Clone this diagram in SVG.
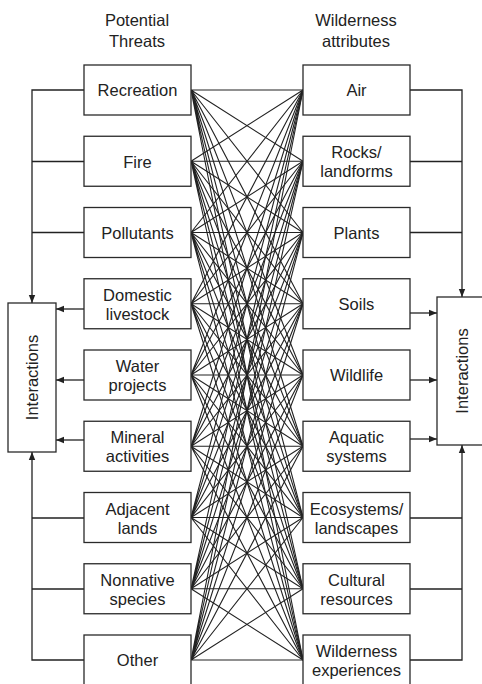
<svg xmlns="http://www.w3.org/2000/svg" width="482" height="684" viewBox="0 0 482 684">
<defs>
<style>
.box{fill:#fff;stroke:#2a2a2a;stroke-width:1.3}
.t{font-family:"Liberation Sans",Arial,sans-serif;font-size:16.5px;fill:#222;text-anchor:middle}
.c{stroke:#222;stroke-width:1.1;fill:none}
.w{stroke:#222;stroke-width:1.3;fill:none}
</style>
<marker id="ah" viewBox="0 0 8 8" refX="8" refY="4" markerWidth="8" markerHeight="8" markerUnits="userSpaceOnUse" orient="auto">
<path d="M0,0.8 L8,4 L0,7.2 Z" fill="#222"/>
</marker>
</defs>
<rect width="482" height="684" fill="#fff"/>
<g id="headers">
<text class="t" x="137" y="26">Potential</text>
<text class="t" x="137" y="47">Threats</text>
<text class="t" x="356" y="26">Wilderness</text>
<text class="t" x="356" y="47">attributes</text>
</g>
<g id="connectors">
<g id="mesh" class="c">
<path d="M191,90 L303,90 M191,90 L303,161.25 M191,90 L303,232.5 M191,90 L303,303.75 M191,90 L303,375 M191,90 L303,446.25 M191,90 L303,517.5 M191,90 L303,588.75 M191,90 L303,660"/>
<path d="M191,161.25 L303,90 M191,161.25 L303,161.25 M191,161.25 L303,232.5 M191,161.25 L303,303.75 M191,161.25 L303,375 M191,161.25 L303,446.25 M191,161.25 L303,517.5 M191,161.25 L303,588.75 M191,161.25 L303,660"/>
<path d="M191,232.5 L303,90 M191,232.5 L303,161.25 M191,232.5 L303,232.5 M191,232.5 L303,303.75 M191,232.5 L303,375 M191,232.5 L303,446.25 M191,232.5 L303,517.5 M191,232.5 L303,588.75 M191,232.5 L303,660"/>
<path d="M191,303.75 L303,90 M191,303.75 L303,161.25 M191,303.75 L303,232.5 M191,303.75 L303,303.75 M191,303.75 L303,375 M191,303.75 L303,446.25 M191,303.75 L303,517.5 M191,303.75 L303,588.75 M191,303.75 L303,660"/>
<path d="M191,375 L303,90 M191,375 L303,161.25 M191,375 L303,232.5 M191,375 L303,303.75 M191,375 L303,375 M191,375 L303,446.25 M191,375 L303,517.5 M191,375 L303,588.75 M191,375 L303,660"/>
<path d="M191,446.25 L303,90 M191,446.25 L303,161.25 M191,446.25 L303,232.5 M191,446.25 L303,303.75 M191,446.25 L303,375 M191,446.25 L303,446.25 M191,446.25 L303,517.5 M191,446.25 L303,588.75 M191,446.25 L303,660"/>
<path d="M191,517.5 L303,90 M191,517.5 L303,161.25 M191,517.5 L303,232.5 M191,517.5 L303,303.75 M191,517.5 L303,375 M191,517.5 L303,446.25 M191,517.5 L303,517.5 M191,517.5 L303,588.75 M191,517.5 L303,660"/>
<path d="M191,588.75 L303,90 M191,588.75 L303,161.25 M191,588.75 L303,232.5 M191,588.75 L303,303.75 M191,588.75 L303,375 M191,588.75 L303,446.25 M191,588.75 L303,517.5 M191,588.75 L303,588.75 M191,588.75 L303,660"/>
<path d="M191,660 L303,90 M191,660 L303,161.25 M191,660 L303,232.5 M191,660 L303,303.75 M191,660 L303,375 M191,660 L303,446.25 M191,660 L303,517.5 M191,660 L303,588.75 M191,660 L303,660"/>
</g>
<g id="left-feedback" class="w">
<path d="M84,90 H32 V303" marker-end="url(#ah)"/>
<path d="M84,161.5 H32 M84,232.5 H32"/>
<path d="M84,660 H32 V452" marker-end="url(#ah)"/>
<path d="M84,518 H32 M84,589 H32"/>
<path d="M84,309 H56" marker-end="url(#ah)"/>
<path d="M84,380 H56" marker-end="url(#ah)"/>
<path d="M84,440 H56" marker-end="url(#ah)"/>
</g>
<g id="right-feedback" class="w">
<path d="M410,90 H462 V297" marker-end="url(#ah)"/>
<path d="M410,161.5 H462 M410,232.5 H462"/>
<path d="M410,660 H462 V445" marker-end="url(#ah)"/>
<path d="M410,518 H462 M410,589 H462"/>
<path d="M410,313 H437" marker-end="url(#ah)"/>
<path d="M410,380 H437" marker-end="url(#ah)"/>
<path d="M410,439 H437" marker-end="url(#ah)"/>
</g>
</g>
<g id="interactions-left"><rect class="box" x="8" y="303" width="48" height="149"/><text class="t" transform="translate(38,377.5) rotate(-90)">Interactions</text></g>
<g id="interactions-right"><rect class="box" x="437" y="297" width="55" height="148"/><text class="t" transform="translate(468,371) rotate(-90)">Interactions</text></g>
<g id="recreation"><rect class="box" x="84" y="65" width="107" height="50"/><text class="t" x="137.5" y="96">Recreation</text></g>
<g id="fire"><rect class="box" x="84" y="136.25" width="107" height="50"/><text class="t" x="137.5" y="167.5">Fire</text></g>
<g id="pollutants"><rect class="box" x="84" y="207.5" width="107" height="50"/><text class="t" x="137.5" y="238.5">Pollutants</text></g>
<g id="domestic-livestock"><rect class="box" x="84" y="278.75" width="107" height="50"/><text class="t" x="137.5" y="300.5">Domestic</text><text class="t" x="137.5" y="319.5">livestock</text></g>
<g id="water-projects"><rect class="box" x="84" y="350" width="107" height="50"/><text class="t" x="137.5" y="372">Water</text><text class="t" x="137.5" y="391">projects</text></g>
<g id="mineral-activities"><rect class="box" x="84" y="421.25" width="107" height="50"/><text class="t" x="137.5" y="443">Mineral</text><text class="t" x="137.5" y="462">activities</text></g>
<g id="adjacent-lands"><rect class="box" x="84" y="492.5" width="107" height="50"/><text class="t" x="137.5" y="514.5">Adjacent</text><text class="t" x="137.5" y="533.5">lands</text></g>
<g id="nonnative-species"><rect class="box" x="84" y="563.75" width="107" height="50"/><text class="t" x="137.5" y="585.5">Nonnative</text><text class="t" x="137.5" y="604.5">species</text></g>
<g id="other"><rect class="box" x="84" y="635" width="107" height="52"/><text class="t" x="137.5" y="666">Other</text></g>
<g id="air"><rect class="box" x="303" y="65" width="107" height="50"/><text class="t" x="356.5" y="96">Air</text></g>
<g id="rocks-landforms"><rect class="box" x="303" y="136.25" width="107" height="50"/><text class="t" x="356.5" y="158">Rocks/</text><text class="t" x="356.5" y="177">landforms</text></g>
<g id="plants"><rect class="box" x="303" y="207.5" width="107" height="50"/><text class="t" x="356.5" y="238.5">Plants</text></g>
<g id="soils"><rect class="box" x="303" y="278.75" width="107" height="50"/><text class="t" x="356.5" y="310">Soils</text></g>
<g id="wildlife"><rect class="box" x="303" y="350" width="107" height="50"/><text class="t" x="356.5" y="381">Wildlife</text></g>
<g id="aquatic-systems"><rect class="box" x="303" y="421.25" width="107" height="50"/><text class="t" x="356.5" y="443">Aquatic</text><text class="t" x="356.5" y="462">systems</text></g>
<g id="ecosystems-landscapes"><rect class="box" x="303" y="492.5" width="107" height="50"/><text class="t" x="356.5" y="514.5">Ecosystems/</text><text class="t" x="356.5" y="533.5">landscapes</text></g>
<g id="cultural-resources"><rect class="box" x="303" y="563.75" width="107" height="50"/><text class="t" x="356.5" y="585.5">Cultural</text><text class="t" x="356.5" y="604.5">resources</text></g>
<g id="wilderness-experiences"><rect class="box" x="303" y="635" width="107" height="52"/><text class="t" x="356.5" y="657">Wilderness</text><text class="t" x="356.5" y="676">experiences</text></g>
</svg>
